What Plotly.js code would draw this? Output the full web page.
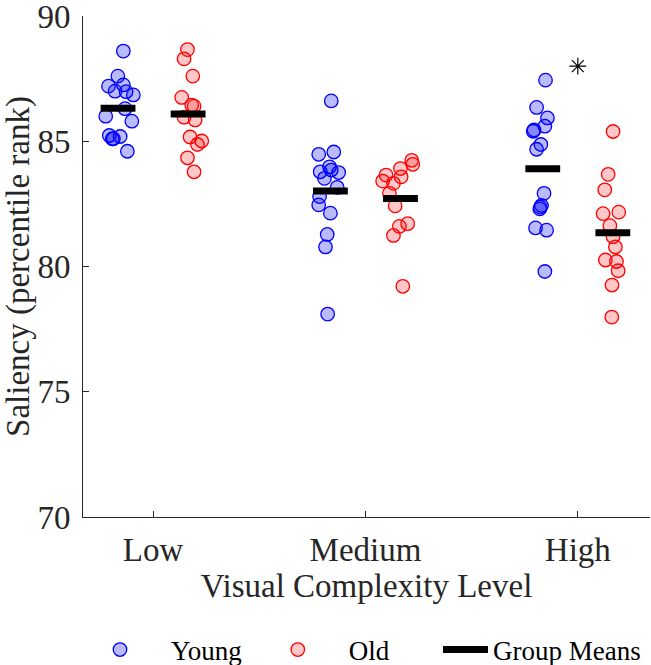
<!DOCTYPE html>
<html>
<head>
<meta charset="utf-8">
<script src="https://cdn.plot.ly/plotly-3.0.1.min.js"></script>
<style>html,body{margin:0;padding:0;background:#fff;}</style>
</head>
<body>
<div id="chart" style="width:651px;height:665px;"></div>
<script>
// Categories and tick labels
const categories = [1, 2, 3];
const tickLabels = ["Low", "Medium", "High"];
const yTicks = [70, 75, 80, 85, 90];

// Young group: saliency values (percentile rank) per complexity level
const youngLow  = [88.6, 87.6, 87.2, 87.25, 87.0, 86.98, 86.85, 86.3, 86.0, 85.8, 85.23, 85.1, 85.19, 85.1, 84.6];
const youngMed  = [86.61, 84.48, 84.57, 83.98, 83.78, 83.75, 83.85, 83.52, 83.16, 82.79, 82.46, 82.13, 81.28, 80.78, 78.1];
const youngHigh = [87.44, 86.35, 85.93, 85.6, 85.45, 85.4, 84.87, 84.68, 82.92, 82.44, 82.37, 82.3, 81.54, 81.45, 79.8];
// Young group: jittered x positions of the points
const youngLowX  = [0.860, 0.834, 0.790, 0.860, 0.821, 0.873, 0.907, 0.868, 0.777, 0.900, 0.794, 0.808, 0.845, 0.813, 0.879];
const youngMedX  = [1.839, 1.780, 1.851, 1.831, 1.787, 1.874, 1.839, 1.807, 1.867, 1.784, 1.780, 1.835, 1.820, 1.812, 1.822];
const youngHighX = [2.848, 2.806, 2.857, 2.845, 2.794, 2.790, 2.826, 2.806, 2.841, 2.829, 2.824, 2.821, 2.801, 2.853, 2.845];

// Old group
const oldLow  = [88.66, 88.29, 87.6, 86.75, 86.44, 86.4, 85.96, 85.85, 85.17, 85.01, 84.87, 84.34, 83.78];
const oldMed  = [84.24, 84.08, 83.91, 83.65, 83.58, 83.41, 83.32, 82.92, 82.42, 81.71, 81.6, 81.24, 79.21];
const oldHigh = [85.39, 83.68, 83.06, 82.11, 82.17, 81.63, 81.19, 80.78, 80.26, 80.2, 79.83, 79.26, 77.98];
const oldLowX  = [1.162, 1.146, 1.187, 1.135, 1.182, 1.193, 1.146, 1.198, 1.174, 1.229, 1.209, 1.162, 1.193];
const oldMedX  = [2.218, 2.223, 2.165, 2.097, 2.168, 2.081, 2.132, 2.113, 2.140, 2.199, 2.160, 2.132, 2.176];
const oldHighX = [3.166, 3.143, 3.127, 3.119, 3.193, 3.151, 3.166, 3.177, 3.130, 3.182, 3.190, 3.161, 3.160];

// Significance marker
const sigX = [3];
const sigY = [88.0];

const seriesNames = ["Young", "Old", "Group Means"];

const mean = a => a.reduce((s, v) => s + v, 0) / a.length;
const youngSets = [youngLow, youngMed, youngHigh];
const oldSets = [oldLow, oldMed, oldHigh];

const FONT = "Liberation Serif, Times New Roman, serif";
const AX = "#262626";

const traces = [];
traces.push({
  type: "scatter", mode: "markers", name: seriesNames[0], legend: "legend",
  x: [].concat(youngLowX, youngMedX, youngHighX),
  y: [].concat(youngLow, youngMed, youngHigh),
  marker: {symbol: "circle", size: 13.5, color: "rgba(0,0,255,0.27)", line: {color: "rgb(0,0,255)", width: 1.3}},
  cliponaxis: false
});
traces.push({
  type: "scatter", mode: "markers", name: seriesNames[1], legend: "legend",
  x: [].concat(oldLowX, oldMedX, oldHighX),
  y: [].concat(oldLow, oldMed, oldHigh),
  marker: {symbol: "circle", size: 13.5, color: "rgba(255,0,0,0.22)", line: {color: "rgb(255,0,0)", width: 1.3}},
  cliponaxis: false
});
// Group means as short thick bars
const off = 0.165, half = 0.082;
const mx = [], my = [];
categories.forEach((c, i) => {
  const ym = mean(youngSets[i]);
  const om = mean(oldSets[i]);
  mx.push(c - off - half, c - off + half, null, c + off - half, c + off + half, null);
  my.push(ym, ym, null, om, om, null);
});
traces.push({
  type: "scatter", mode: "lines", name: seriesNames[2], legend: "legend2",
  x: mx, y: my, connectgaps: false,
  line: {color: "#000", width: 7}
});
traces.push({
  type: "scatter", mode: "markers", showlegend: false,
  x: sigX, y: sigY,
  marker: {symbol: "asterisk-open", size: 14, color: "#000", line: {color: "#000", width: 1.2}}
});

const legendCommon = {
  orientation: "h", xref: "container", yref: "container",
  yanchor: "middle", y: 1 - 650 / 665, xanchor: "left",
  bgcolor: "rgba(0,0,0,0)", borderwidth: 0,
  font: {family: FONT, size: 27, color: "#000"}, traceorder: "normal"
};

const layout = {
  width: 651, height: 665,
  margin: {l: 83, r: 1, t: 16, b: 148},
  paper_bgcolor: "#fff", plot_bgcolor: "#fff",
  font: {family: FONT, color: AX, size: 33},
  showlegend: true,
  legend: Object.assign({}, legendCommon, {x: 69 / 651, itemwidth: 92}),
  legend2: Object.assign({}, legendCommon, {x: 438 / 651, itemwidth: 45}),
  xaxis: {
    range: [0.67, 3.34], tickvals: categories, ticktext: tickLabels,
    showgrid: false, zeroline: false, showline: true, linecolor: AX, linewidth: 1,
    ticks: "inside", ticklen: 6, tickcolor: AX, ticklabelstandoff: 3,
    ticklabeloverflow: "allow",
    tickfont: {family: FONT, size: 33, color: AX},
    title: {text: "Visual Complexity Level", font: {family: FONT, size: 33, color: AX}, standoff: 4},
    automargin: false, mirror: false
  },
  yaxis: {
    range: [70, 90], tickvals: yTicks,
    showgrid: false, zeroline: false, showline: true, linecolor: AX, linewidth: 1,
    ticks: "inside", ticklen: 6, tickcolor: AX, ticklabelstandoff: 5,
    ticklabeloverflow: "allow",
    tickfont: {family: FONT, size: 33, color: AX},
    title: {text: "Saliency (percentile rank)", font: {family: FONT, size: 33, color: AX}, standoff: 4},
    automargin: false, mirror: false
  }
};

Plotly.newPlot("chart", traces, layout, {displayModeBar: false, staticPlot: true});
</script>
</body>
</html>
